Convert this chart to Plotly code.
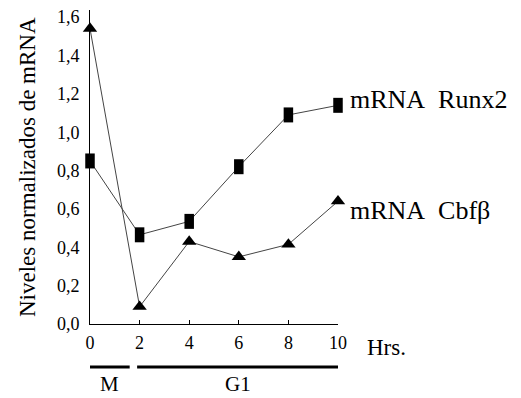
import plotly.graph_objects as go

hours = [0, 2, 4, 6, 8, 10]
runx2 = [0.85, 0.465, 0.535, 0.82, 1.09, 1.14]
cbfb = [1.54, 0.09, 0.43, 0.35, 0.415, 0.64]
series_names = ["mRNA\u00a0 Runx2", "mRNA\u00a0 Cbf\u03b2"]
y_ticks = [0, 0.2, 0.4, 0.6, 0.8, 1.0, 1.2, 1.4, 1.6]
y_ticklabels = ["0,0", "0,2", "0,4", "0,6", "0,8", "1,0", "1,2", "1,4", "1,6"]
x_ticks = [0, 2, 4, 6, 8, 10]
phases = ["M", "G1"]
phase_start = [0, 1.9]
phase_end = [1.6, 10]

FONT = "'Liberation Serif', 'Times New Roman', Tinos, serif"

fig = go.Figure()
fig.add_trace(go.Scatter(
    x=hours, y=runx2, mode="lines+markers", cliponaxis=False,
    line=dict(color="#444444", width=1),
    marker=dict(symbol="line-ns", size=10.7, color="black",
                line=dict(color="black", width=9.5)),
    showlegend=False, hoverinfo="skip"))
fig.add_trace(go.Scatter(
    x=hours, y=cbfb, mode="lines+markers", cliponaxis=False,
    line=dict(color="#444444", width=1),
    marker=dict(symbol="triangle-up", size=12.5, color="black",
                line=dict(width=0)),
    showlegend=False, hoverinfo="skip"))

# series labels next to last points
fig.add_annotation(x=hours[-1], y=runx2[-1], text=series_names[0], showarrow=False,
                   xanchor="left", xshift=10, yshift=6,
                   font=dict(family=FONT, size=26, color="black"))
fig.add_annotation(x=hours[-1], y=cbfb[-1], text=series_names[1], showarrow=False,
                   xanchor="left", xshift=10, yshift=-9,
                   font=dict(family=FONT, size=26, color="black"))

# y title
fig.add_annotation(xref="paper", yref="paper", x=-0.254, y=0.5, textangle=-90,
                   text="Niveles normalizados de mRNA", showarrow=False,
                   xanchor="center", yanchor="middle",
                   font=dict(family=FONT, size=23, color="black"))
# Hrs.
fig.add_annotation(xref="paper", yref="paper", x=1.11, y=-0.075,
                   text="Hrs.", showarrow=False, xanchor="left", yanchor="middle",
                   font=dict(family=FONT, size=23, color="black"))

# phase bars
for name, s, e in zip(phases, phase_start, phase_end):
    fig.add_shape(type="line", xref="x", yref="paper", x0=s, x1=e, y0=-0.137, y1=-0.137,
                  line=dict(color="black", width=3))
    fig.add_annotation(xref="x", yref="paper", x=(s + e) / 2, y=-0.19,
                       text=name, showarrow=False, xanchor="center", yanchor="middle",
                       font=dict(family=FONT, size=21, color="black"))

fig.update_xaxes(range=[0, 10], tickvals=x_ticks, ticktext=[str(v) for v in x_ticks],
                 showline=True, linecolor="black", linewidth=1, ticks="inside",
                 ticklen=4, tickcolor="black", showgrid=False, zeroline=False,
                 ticklabelstandoff=2, automargin=False,
                 tickfont=dict(family=FONT, size=18, color="black"))
fig.update_yaxes(range=[0, 1.637], tickvals=y_ticks, ticktext=y_ticklabels,
                 showline=True, linecolor="black", linewidth=1, ticks="",
                 showgrid=False, zeroline=False, ticklabelstandoff=6, automargin=False,
                 tickfont=dict(family=FONT, size=18, color="black"))

fig.update_layout(width=521, height=398, margin=dict(l=90, r=183, t=10, b=74, autoexpand=False),
                  plot_bgcolor="white", paper_bgcolor="white",
                  font=dict(family=FONT, color="black"), hovermode=False)

fig.write_html("out.html", config={"displayModeBar": False},
               post_script="document.body.style.margin='0px';document.body.style.overflow='hidden';")
